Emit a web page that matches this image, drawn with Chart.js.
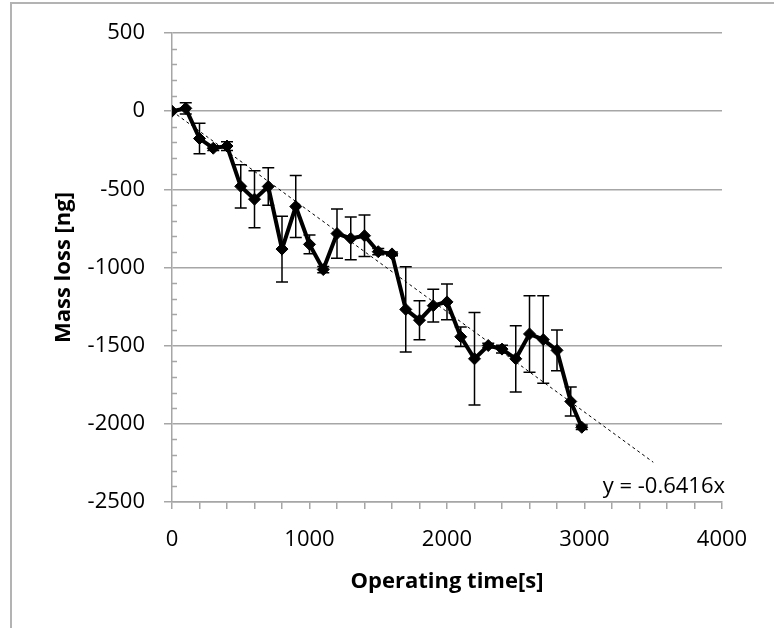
<!DOCTYPE html>
<html>
<head>
<meta charset="utf-8">
<script src="https://cdn.jsdelivr.net/npm/chart.js@4"></script>
<style>
  html, body { margin: 0; padding: 0; background: #fff; }
  canvas { display: block; }
</style>
</head>
<body>
<canvas id="chart" width="774" height="628"></canvas>
<script>
// operating time [s]
const times = [0, 100, 200, 300, 400, 500, 600, 700, 800, 900, 1000, 1100, 1200, 1300, 1400,
  1500, 1600, 1700, 1800, 1900, 2000, 2100, 2200, 2300, 2400, 2500, 2600, 2700, 2800, 2900, 2980];
// mass loss [ng]
const massLoss = [0, 18, -175, -237, -223, -481, -563, -482, -882, -610, -852, -1013, -783, -814, -797,
  -899, -913, -1268, -1337, -1244, -1220, -1443, -1584, -1499, -1522, -1584, -1425, -1461, -1530, -1857, -2022];
// error bar half-heights [ng]
const errors = [0, 36, 98, 15, 28, 138, 182, 120, 210, 198, 60, 20, 158, 137, 133,
  20, 12, 272, 125, 105, 115, 62, 296, 15, 25, 212, 245, 280, 131, 93, 15];

// linear trend through origin
const slope = -0.6416;
const trendX = [0, 3500];
const trendLabel = 'y = -0.6416x';

const xMajor = [0, 1000, 2000, 3000, 4000];
const yMajor = [500, 0, -500, -1000, -1500, -2000, -2500];

const gray = '#a6a6a6';
const font = "'Open Sans', 'Liberation Sans', sans-serif";

const points = times.map((t, i) => ({ x: t, y: massLoss[i] }));
const trend = trendX.map(t => ({ x: t, y: slope * t }));

// error bars
const errorBars = {
  id: 'errorBars',
  afterDatasetsDraw(c) {
    const ctx = c.ctx, xs = c.scales.x, ys = c.scales.y;
    ctx.save();
    ctx.strokeStyle = '#000';
    ctx.lineWidth = 1.5;
    times.forEach((t, i) => {
      if (!errors[i]) return;
      const px = xs.getPixelForValue(t);
      const top = ys.getPixelForValue(massLoss[i] + errors[i]);
      const bot = ys.getPixelForValue(massLoss[i] - errors[i]);
      ctx.beginPath();
      ctx.moveTo(px, top); ctx.lineTo(px, bot);
      ctx.moveTo(px - 6, top); ctx.lineTo(px + 6, top);
      ctx.moveTo(px - 6, bot); ctx.lineTo(px + 6, bot);
      ctx.stroke();
    });
    ctx.restore();
  }
};

// minor y ticks inside the plot, trend label, frame
const extras = {
  id: 'extras',
  beforeDraw(c) {
    const ctx = c.ctx;
    ctx.save();
    ctx.strokeStyle = '#b3b3b3';
    ctx.lineWidth = 2;
    ctx.beginPath();
    ctx.moveTo(11, c.height);
    ctx.lineTo(11, 3);
    ctx.lineTo(c.width, 3);
    ctx.stroke();
    ctx.restore();
  },
  afterDraw(c) {
    const ctx = c.ctx, xs = c.scales.x, ys = c.scales.y;
    const left = c.chartArea.left;
    ctx.save();
    ctx.strokeStyle = gray;
    ctx.lineWidth = 1.5;
    ys.ticks.forEach(tk => {
      if (yMajor.includes(tk.value)) return;
      const py = Math.round(ys.getPixelForValue(tk.value)) + 0.5;
      ctx.beginPath();
      ctx.moveTo(left, py);
      ctx.lineTo(left + 5, py);
      ctx.stroke();
    });
    ctx.fillStyle = '#000';
    ctx.font = '22px ' + font;
    ctx.textAlign = 'right';
    ctx.textBaseline = 'middle';
    ctx.fillText(trendLabel, c.chartArea.right + 3, ys.getPixelForValue(-2400));
    ctx.restore();
  }
};

new Chart(document.getElementById('chart'), {
  type: 'scatter',
  data: {
    datasets: [
      {
        data: points,
        showLine: true,
        borderColor: '#000',
        borderWidth: 4,
        backgroundColor: '#000',
        pointStyle: 'rectRot',
        pointRadius: 6,
        pointBorderWidth: 1,
        order: 1
      },
      {
        data: trend,
        showLine: true,
        borderColor: '#000',
        borderWidth: 1,
        borderDash: [3, 3],
        pointRadius: 0,
        order: 2
      }
    ]
  },
  options: {
    responsive: false,
    animation: false,
    layout: { padding: { top: 33, right: 52, left: 0, bottom: 0 } },
    plugins: { legend: { display: false }, tooltip: { enabled: false } },
    scales: {
      x: {
        type: 'linear',
        min: 0,
        max: 4000,
        border: { color: gray, width: 1.5 },
        grid: {
          drawOnChartArea: false,
          tickLength: 7,
          tickColor: gray,
          lineWidth: 1.5
        },
        ticks: {
          stepSize: 200,
          autoSkip: false,
          maxRotation: 0,
          padding: 18,
          color: '#000',
          font: { family: font, size: 22 },
          callback: v => xMajor.includes(v) ? String(v) : ''
        },
        title: {
          display: true,
          text: 'Operating time[s]',
          color: '#000',
          font: { family: font, size: 22, weight: 'bold' },
          padding: { top: 0, bottom: 33 }
        },
        afterFit: s => { s.height = 126; }
      },
      y: {
        type: 'linear',
        min: -2500,
        max: 500,
        border: { color: gray, width: 1.5 },
        grid: {
          color: ctx => yMajor.includes(ctx.tick.value) ? gray : 'rgba(0,0,0,0)',
          tickColor: ctx => yMajor.includes(ctx.tick.value) ? gray : 'rgba(0,0,0,0)',
          lineWidth: 1.5,
          tickLength: 8
        },
        ticks: {
          stepSize: 100,
          autoSkip: false,
          padding: 19,
          color: '#000',
          font: { family: font, size: 22 },
          callback: v => yMajor.includes(v) ? String(v) : ''
        },
        title: {
          display: true,
          text: 'Mass loss [ng]',
          color: '#000',
          font: { family: font, size: 22, weight: 'bold' },
          padding: { top: 51, bottom: 0 }
        },
        afterFit: s => { s.width = 172; }
      }
    }
  },
  plugins: [errorBars, extras]
});
</script>
</body>
</html>
